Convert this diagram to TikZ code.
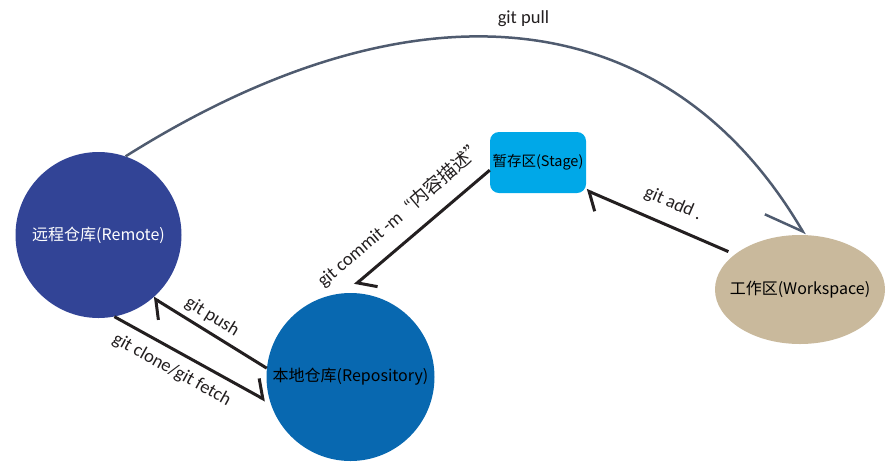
\documentclass[tikz,border=0pt]{standalone}
\usepackage{fontspec}
\setmainfont{Carlito}
\newfontfamily\cjk{Noto Sans CJK SC}
\usetikzlibrary{arrows.meta,shapes.geometric}
\definecolor{remoteblue}{RGB}{50,68,150}
\definecolor{repoblue}{RGB}{8,104,176}
\definecolor{stagecyan}{RGB}{0,168,232}
\definecolor{workbeige}{RGB}{201,185,156}
\definecolor{pullgray}{RGB}{79,91,111}
\definecolor{inkdark}{RGB}{35,31,32}
\tikzset{
  area/.style={inner sep=0pt, font=\fontsize{16}{19}\selectfont},
  link/.style={draw=inkdark, line width=3pt, -{Straight Barb[harpoon, length=13pt, width=32pt]}},
  pulllink/.style={draw=pullgray, line width=2.5pt, -{Straight Barb[harpoon, swap, length=34pt, width=48pt]}},
  lbl/.style={font=\fontsize{18.5}{22}\selectfont, text=inkdark}
}
\begin{document}
\begin{tikzpicture}[x=1pt, y=-1pt]
    \useasboundingbox (0,0) rectangle (892,467);
    % Areas
    \node[area, circle, fill=remoteblue, minimum size=166pt, text=white] (remote) at (98.5,235) {\cjk{远程仓库}(Remote)};
    \node[area, circle, fill=repoblue, minimum size=168pt] (repo) at (350.5,377) {\cjk{本地仓库}(Repository)};
    \node[area, rectangle, rounded corners=9pt, fill=stagecyan, minimum width=96pt, minimum height=61pt,
          font=\fontsize{14.5}{17}\selectfont] (stage) at (538,162.5) {\cjk{暂存区}(Stage)};
    \node[area, ellipse, fill=workbeige, minimum width=170pt, minimum height=109pt] (work) at (800,289.5)
        {\makebox[0pt]{\cjk{工作区}(Workspace)}};
    % git pull
    \draw[pulllink] (remote.71) .. controls (417.6,-27.4) and (668,2) .. (work.85)
        node[lbl, pos=0.5, above=8pt] (pulllbl) {git pull};
    % git add
    \draw[link] ([xshift=-6pt, yshift=3pt]work.152) -- ([yshift=3pt]stage.south east)
        node[lbl, pos=0.45, sloped, above=9pt] (addlbl) {git add .};
    % git commit
    \draw[link] (stage.189) -- ([yshift=8pt]repo.87)
        node[lbl, pos=0.54, sloped, above=10pt] (commitlbl) {git commit -m\hspace{9pt}“\cjk{内容描述}”};
    % git push
    \draw[link] (repo.174.6) -- (remote.-49.4)
        node[lbl, pos=0.55, sloped, above=2pt] (pushlbl) {git push};
    % git clone / fetch
    \draw[link] (remote.-79.5) -- ([xshift=-4pt]repo.196)
        node[lbl, pos=0.44, sloped, below=6pt] (clonelbl) {git clone/git fetch};
\end{tikzpicture}
\end{document}
